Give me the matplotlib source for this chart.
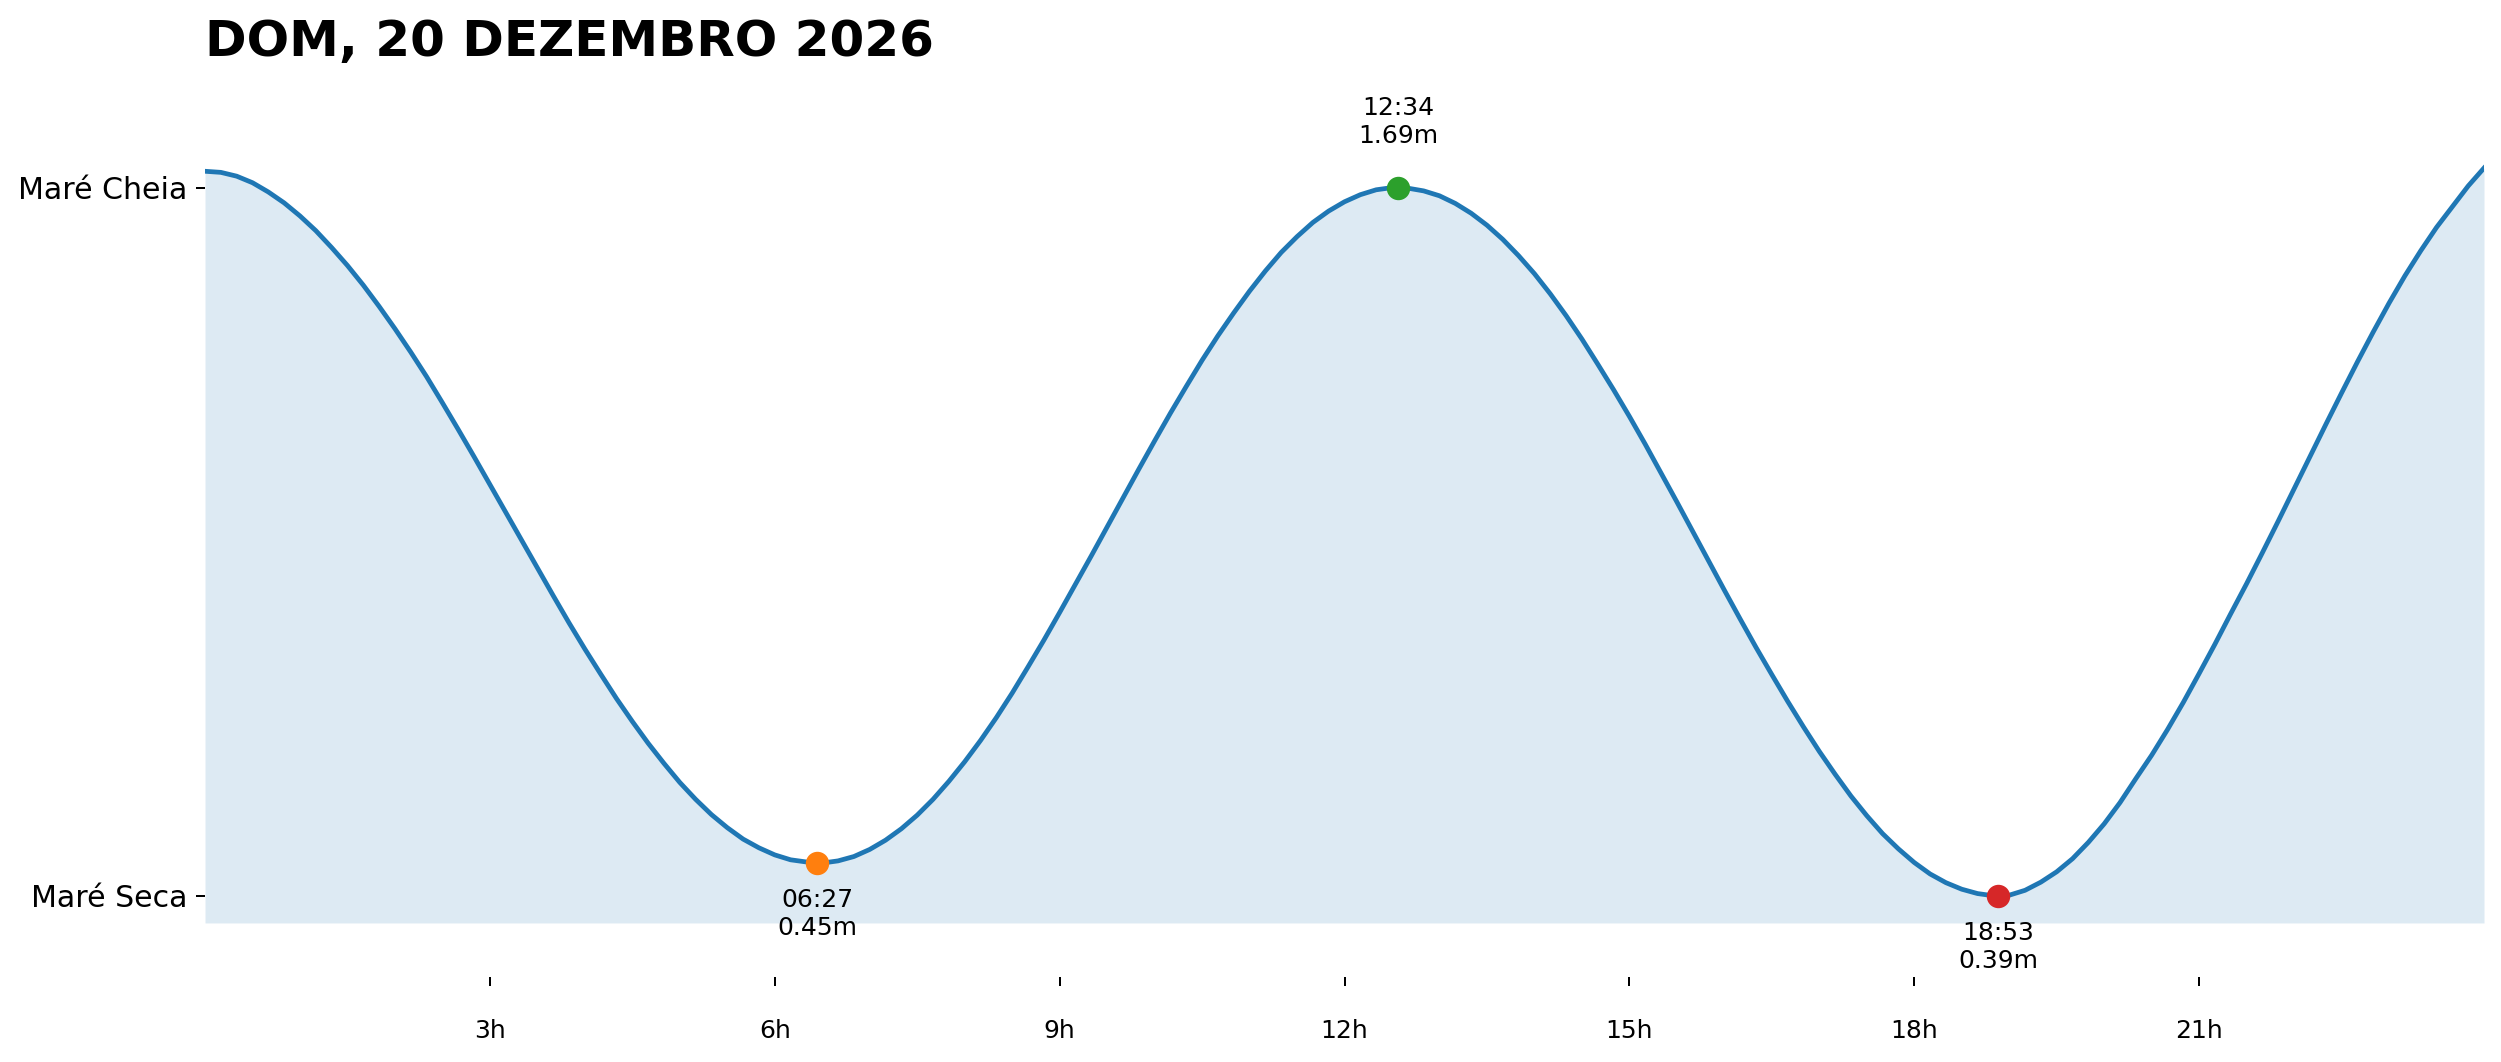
import numpy as np
import matplotlib
matplotlib.use('Agg')
import matplotlib.pyplot as plt

# altura da maré (m) a cada 10 minutos, das 00:00 às 24:00 (uma linha por hora)
alturas = [1.720, 1.718, 1.711, 1.699, 1.682, 1.662,
           1.638, 1.611, 1.580, 1.547, 1.511, 1.472,
           1.431, 1.388, 1.343, 1.295, 1.246, 1.196,
           1.145, 1.094, 1.043, 0.992, 0.941, 0.891,
           0.843, 0.797, 0.752, 0.710, 0.670, 0.633,
           0.598, 0.567, 0.539, 0.515, 0.494, 0.478,
           0.465, 0.456, 0.452, 0.450, 0.454, 0.462,
           0.475, 0.492, 0.513, 0.538, 0.567, 0.600,
           0.636, 0.675, 0.717, 0.762, 0.810, 0.859,
           0.910, 0.962, 1.014, 1.067, 1.120, 1.173,
           1.225, 1.276, 1.325, 1.373, 1.418, 1.460,
           1.500, 1.537, 1.571, 1.600, 1.626, 1.647,
           1.664, 1.677, 1.686, 1.690, 1.689, 1.684,
           1.675, 1.661, 1.643, 1.621, 1.595, 1.565,
           1.532, 1.495, 1.455, 1.412, 1.366, 1.319,
           1.270, 1.219, 1.166, 1.113, 1.059, 1.005,
           0.951, 0.898, 0.846, 0.796, 0.747, 0.700,
           0.655, 0.613, 0.573, 0.537, 0.504, 0.476,
           0.451, 0.430, 0.414, 0.402, 0.394, 0.390,
           0.391, 0.400, 0.415, 0.434, 0.458, 0.488,
           0.522, 0.561, 0.605, 0.648, 0.695, 0.745,
           0.798, 0.852, 0.908, 0.963, 1.020, 1.078,
           1.137, 1.196, 1.255, 1.313, 1.370, 1.425,
           1.478, 1.528, 1.574, 1.617, 1.655, 1.693,
           1.726]

# preia-mar / baixa-mar do dia
extremos_hora = ["06:27", "12:34", "18:53"]
extremos_altura = [0.45, 1.69, 0.39]
extremos_tipo = ["baixa", "alta", "baixa"]
extremos_cor = ["tab:orange", "tab:green", "tab:red"]

ticks_horas = [3, 6, 9, 12, 15, 18, 21]
ticks_labels = ["3h", "6h", "9h", "12h", "15h", "18h", "21h"]
labels_y = ["Maré Seca", "Maré Cheia"]
titulo = "DOM, 20 DEZEMBRO 2026"

horas = np.linspace(0, 24, len(alturas))
alturas = np.array(alturas)

DPI = 180
fig = plt.figure(figsize=(2501 / DPI, 1062 / DPI), dpi=DPI)
ax = fig.add_axes([0.08197, 0.1309, 0.91124, 0.7386])

y_min = alturas.min() - 0.05
ax.plot(horas, alturas, color='tab:blue', linewidth=1.9, zorder=2)
ax.fill_between(horas, alturas, y_min, color='tab:blue', alpha=0.15, linewidth=0, zorder=1)

for hora, altura, tipo, cor in zip(extremos_hora, extremos_altura, extremos_tipo, extremos_cor):
    h, m = hora.split(":")
    x = int(h) + int(m) / 60
    ax.scatter(x, altura, s=70, color=cor, zorder=3)
    if tipo == "alta":
        ax.annotate(f"{hora}\n{altura:.2f}m", (x, altura), xytext=(0, 16),
                    textcoords='offset points', ha='center', va='bottom', fontsize=10)
    else:
        ax.annotate(f"{hora}\n{altura:.2f}m", (x, altura), xytext=(0, -10),
                    textcoords='offset points', ha='center', va='top', fontsize=10)

ax.set_xlim(0, 24)
ax.set_ylim(y_min, alturas.max() + 0.054)
ax.set_xticks(ticks_horas)
ax.set_xticklabels(ticks_labels, fontsize=12)
ax.set_yticks([min(extremos_altura), max(extremos_altura)])
ax.set_yticklabels(labels_y, fontsize=12)
ax.tick_params(axis='x', pad=13.5)

for lado in ['top', 'right', 'left', 'bottom']:
    ax.spines[lado].set_visible(False)
ax.spines['bottom'].set_position(('outward', 21.5))

ax.set_title(titulo, loc='left', fontsize=20, fontweight='bold', pad=33)

plt.savefig('out.png', dpi=DPI)
